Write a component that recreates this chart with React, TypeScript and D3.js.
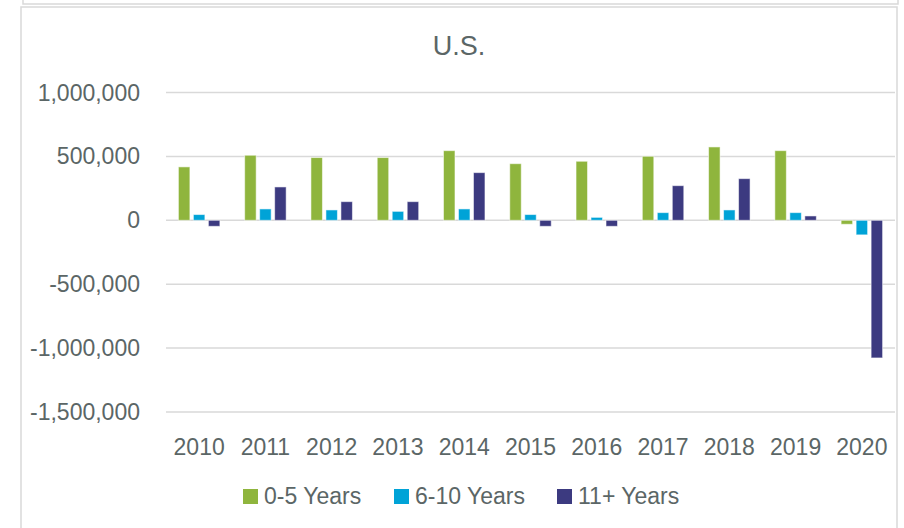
import React from "react";
import * as d3 from "d3";

const years = ["2010","2011","2012","2013","2014","2015","2016","2017","2018","2019","2020"];
const seriesNames = ["0-5 Years", "6-10 Years", "11+ Years"];
const seriesColors = ["#8FB53D", "#00A3D7", "#3C3A80"];
const years0to5 = [418000, 509000, 491000, 491000, 545000, 443000, 462000, 501000, 574000, 545000, -31000];
const years6to10 = [45000, 89000, 81000, 70000, 89000, 45000, 23000, 60000, 81000, 60000, -114000];
const years11plus = [-47000, 261000, 146000, 146000, 373000, -47000, -47000, 271000, 326000, 34000, -1077000];
const yTicks = [1000000, 500000, 0, -500000, -1000000, -1500000];
const title = "U.S.";

const W = 904, H = 528;
const plotLeft = 166, plotRight = 895, plotTop = 92.5, plotBottom = 412;
const textColor = "#5b6666";
const gridColor = "#D9D9D9";
const font = "'Liberation Sans', Arial, sans-serif";

export default function App() {
  const seriesValues = [years0to5, years6to10, years11plus];
  const x0 = d3.scaleBand<string>().domain(years).range([plotLeft, plotRight]).padding(0);
  const bw = x0.bandwidth();
  const x1 = d3.scaleBand<string>().domain(seriesNames).range([bw * 0.187, bw * 0.813]).paddingInner(0.233).paddingOuter(0);
  const y = d3.scaleLinear().domain([-1500000, 1000000]).range([plotBottom, plotTop]);
  const locale = d3.formatLocale({ decimal: ".", thousands: ",", grouping: [3], currency: ["$", ""], minus: "-" });
  const fmt = locale.format(",");

  const legendX = [243, 394, 557];

  return (
    <svg width={W} height={H} style={{ position: "absolute", left: 0, top: 0, background: "#fff" }} fontFamily={font}>
      {/* frames */}
      <rect x={23} y={-10} width={875} height={14} fill="none" stroke={gridColor} strokeWidth={1.5} />
      <rect x={21} y={7} width={876} height={540} fill="none" stroke={gridColor} strokeWidth={1.5} />
      <text x={459} y={55} textAnchor="middle" fontSize={27} fill={textColor}>{title}</text>
      {/* grid + y labels */}
      {yTicks.map((t) => (
        <g key={t}>
          <line x1={plotLeft} x2={plotRight} y1={y(t)} y2={y(t)} stroke={gridColor} strokeWidth={1.5} />
          <text x={140} y={y(t)} dy="0.35em" textAnchor="end" fontSize={23} fill={textColor}>{fmt(t)}</text>
        </g>
      ))}
      {/* bars */}
      {years.map((yr, i) => (
        <g key={yr} transform={`translate(${x0(yr)},0)`}>
          {seriesNames.map((s, j) => {
            const v = seriesValues[j][i];
            const y0 = y(0), yv = y(v);
            return (
              <rect key={s} x={x1(s)} width={x1.bandwidth()} y={Math.min(y0, yv)} height={Math.abs(yv - y0)}
                fill={seriesColors[j]} stroke="#ffffff" strokeOpacity={0.55} strokeWidth={1} />
            );
          })}
          <text x={bw / 2} y={455} textAnchor="middle" fontSize={23} fill={textColor}>{yr}</text>
        </g>
      ))}
      {/* legend */}
      {seriesNames.map((s, j) => (
        <g key={s} transform={`translate(${legendX[j]},0)`}>
          <rect x={0} y={489} width={15} height={15} fill={seriesColors[j]} />
          <text x={21} y={504} fontSize={23} fill={textColor}>{s}</text>
        </g>
      ))}
    </svg>
  );
}
